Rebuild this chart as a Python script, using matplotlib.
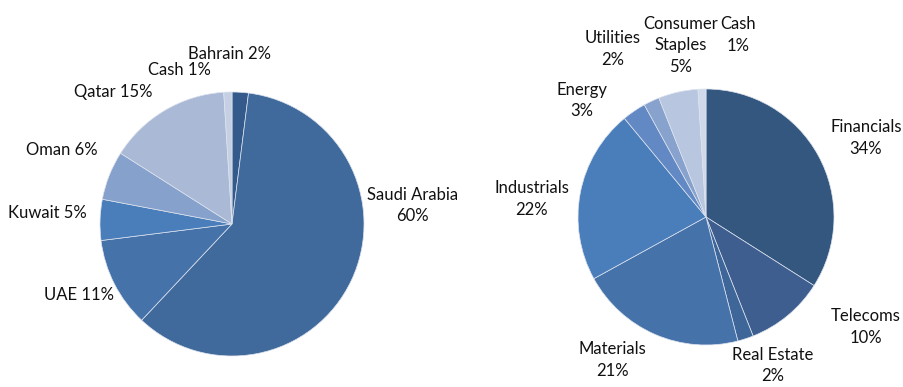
import matplotlib.pyplot as plt

plt.rcParams['font.family'] = ['Lato', 'DejaVu Sans']

# --- Country allocation (left pie) ---
country_names = ["Bahrain", "Saudi Arabia", "UAE", "Kuwait", "Oman", "Qatar", "Cash"]
country_pct = [2, 60, 11, 5, 6, 15, 1]
country_labels = ["Bahrain 2%", "Saudi Arabia\n60%", "UAE 11%", "Kuwait 5%",
                  "Oman 6%", "Qatar 15%", "Cash 1%"]
country_colors = ["#335A8A", "#416A9C", "#4672AA", "#4A7EBB",
                  "#86A1CB", "#AAB9D6", "#C5D0E4"]
# label centres, in pie radii
country_label_pos = [(-0.02, 1.29), (1.37, 0.14), (-1.16, -0.54), (-1.40, 0.08),
                     (-1.29, 0.56), (-0.90, 1.00), (-0.40, 1.17)]

# --- Sector allocation (right pie) ---
sector_names = ["Financials", "Telecoms", "Real Estate", "Materials", "Industrials",
                "Energy", "Utilities", "Consumer Staples", "Cash"]
sector_pct = [34, 10, 2, 21, 22, 3, 2, 5, 1]
sector_labels = ["Financials\n34%", "Telecoms\n10%", "Real Estate\n2%", "Materials\n21%",
                 "Industrials\n22%", "Energy\n3%", "Utilities\n2%",
                 "Consumer\nStaples\n5%", "Cash\n1%"]
sector_colors = ["#34577F", "#3D5E8E", "#3F6699", "#4672AA", "#4A7EBB",
                 "#6389C4", "#87A2CC", "#B8C6E0", "#D0D9EB"]
sector_label_pos = [(1.25, 0.62), (1.25, -0.86), (0.52, -1.16), (-0.73, -1.12),
                    (-1.36, 0.14), (-0.97, 0.91), (-0.73, 1.31), (-0.20, 1.34),
                    (0.25, 1.42)]

W, H = 904, 387
fig = plt.figure(figsize=(W / 100, H / 100), dpi=100)


def draw_pie(cx, cy, r, values, colors, labels, label_pos):
    # cx, cy, r in pixels (cy measured from the bottom)
    ax = fig.add_axes([(cx - r) / W, (cy - r) / H, 2 * r / W, 2 * r / H])
    ax.pie(values, colors=colors, startangle=90, counterclock=False, radius=1,
           wedgeprops=dict(edgecolor="#DDE3EE", linewidth=0.5))
    ax.set_xlim(-1, 1)
    ax.set_ylim(-1, 1)
    ax.set_aspect("equal")
    ax.axis("off")
    for text, (x, y) in zip(labels, label_pos):
        ax.text(x, y, text, ha="center", va="center", fontsize=12,
                color="#111111", linespacing=1.45, clip_on=False)


draw_pie(232, 387 - 224, 132, country_pct, country_colors, country_labels, country_label_pos)
draw_pie(706, 387 - 217, 128, sector_pct, sector_colors, sector_labels, sector_label_pos)

fig.savefig("out.png", dpi=100)
